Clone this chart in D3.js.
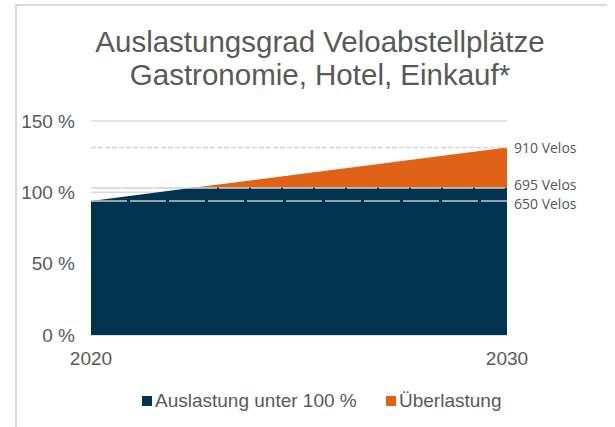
<!DOCTYPE html>
<html lang="de">
<head>
<meta charset="UTF-8">
<title>Auslastungsgrad Veloabstellplätze</title>
<script src="https://d3js.org/d3.v7.min.js"></script>
<style>
  body { margin: 0; background: #fff; }
  text { font-family: "Liberation Sans", Arial, sans-serif; fill: #595959; }
  .ref-label { font-family: "Open Sans", sans-serif; font-size: 14px; fill: #555; }
</style>
</head>
<body>
<div id="chart"></div>
<script>
// data
const years = [2020, 2022.4, 2030];
const unter100 = [94, 103, 103];
const ueberlast = [0, 0, 28.5];
const seriesNames = ["Auslastung unter 100 %", "Überlastung"];
const seriesColors = ["#003350", "#e06216"];
const yTicks = [0, 50, 100, 150];
const xTicks = [2020, 2030];
const refValues = [131.5, 103, 94];
const refLabels = ["910 Velos", "695 Velos", "650 Velos"];
const titleLines = ["Auslastungsgrad Veloabstellplätze", "Gastronomie, Hotel, Einkauf*"];

const width = 615, height = 427;

const svg = d3.select("#chart").append("svg")
    .attr("width", width)
    .attr("height", height);

// frame
svg.append("path")
    .attr("d", "M16,427V5H607")
    .attr("fill", "none")
    .attr("stroke", "#d9d9d9")
    .attr("stroke-width", 2);

// title
svg.append("text")
    .attr("text-anchor", "middle")
    .attr("font-size", 29.5)
    .selectAll("tspan")
    .data(titleLines)
    .join("tspan")
    .attr("x", 320)
    .attr("y", (d, i) => 52 + i * 33)
    .text(d => d);

const x = d3.scaleLinear().domain([2020, 2030]).range([91, 507]);
const y = d3.scaleLinear().domain([0, 150]).range([335, 121]);

// gridlines
svg.append("g")
    .selectAll("line")
    .data(yTicks)
    .join("line")
    .attr("x1", x(2020)).attr("x2", x(2030))
    .attr("y1", d => y(d)).attr("y2", d => y(d))
    .attr("stroke", "#d9d9d9")
    .attr("stroke-width", 1.5);

// y labels
svg.append("g")
    .selectAll("text")
    .data(yTicks)
    .join("text")
    .attr("x", 75)
    .attr("y", d => y(d))
    .attr("dy", "0.35em")
    .attr("text-anchor", "end")
    .attr("font-size", 19)
    .text(d => d + " %");

// stacked areas
const rows = years.map((yr, i) => ({ year: yr, a: unter100[i], b: ueberlast[i] }));
const stack = d3.stack().keys(["a", "b"]);
const layers = stack(rows);

const area = d3.area()
    .x(d => x(d.data.year))
    .y0(d => y(d[0]))
    .y1(d => y(d[1]));

svg.append("g")
    .selectAll("path")
    .data(layers)
    .join("path")
    .attr("fill", (d, i) => seriesColors[i])
    .attr("d", area);

// reference lines (Velos)
const dashes = ["5,2", "30,2", "36,3"];
const refColors = ["#d4d4d4", "#cfcfcf", "#c8c8c8"];
const labelShift = [1, -3, 3];
svg.append("g")
    .selectAll("line")
    .data(refValues)
    .join("line")
    .attr("x1", x(2020)).attr("x2", x(2030))
    .attr("y1", d => y(d)).attr("y2", d => y(d))
    .attr("stroke", (d, i) => refColors[i])
    .attr("stroke-width", 1.5)
    .attr("stroke-dasharray", (d, i) => dashes[i]);

svg.append("g")
    .selectAll("text")
    .data(refValues)
    .join("text")
    .attr("class", "ref-label")
    .attr("x", 514)
    .attr("y", (d, i) => y(d) + labelShift[i])
    .attr("dy", "0.35em")
    .text((d, i) => refLabels[i]);

// x labels
svg.append("g")
    .selectAll("text")
    .data(xTicks)
    .join("text")
    .attr("x", d => x(d))
    .attr("y", 365)
    .attr("text-anchor", "middle")
    .attr("font-size", 19)
    .text(d => d);

// legend
const legX = [142, 386];
const leg = svg.append("g")
    .selectAll("g")
    .data(seriesNames)
    .join("g")
    .attr("transform", (d, i) => `translate(${legX[i]},396)`);

leg.append("rect")
    .attr("width", 10)
    .attr("height", 10)
    .attr("fill", (d, i) => seriesColors[i]);

leg.append("text")
    .attr("x", 13)
    .attr("y", 11)
    .attr("font-size", 19)
    .text(d => d);
</script>
</body>
</html>
